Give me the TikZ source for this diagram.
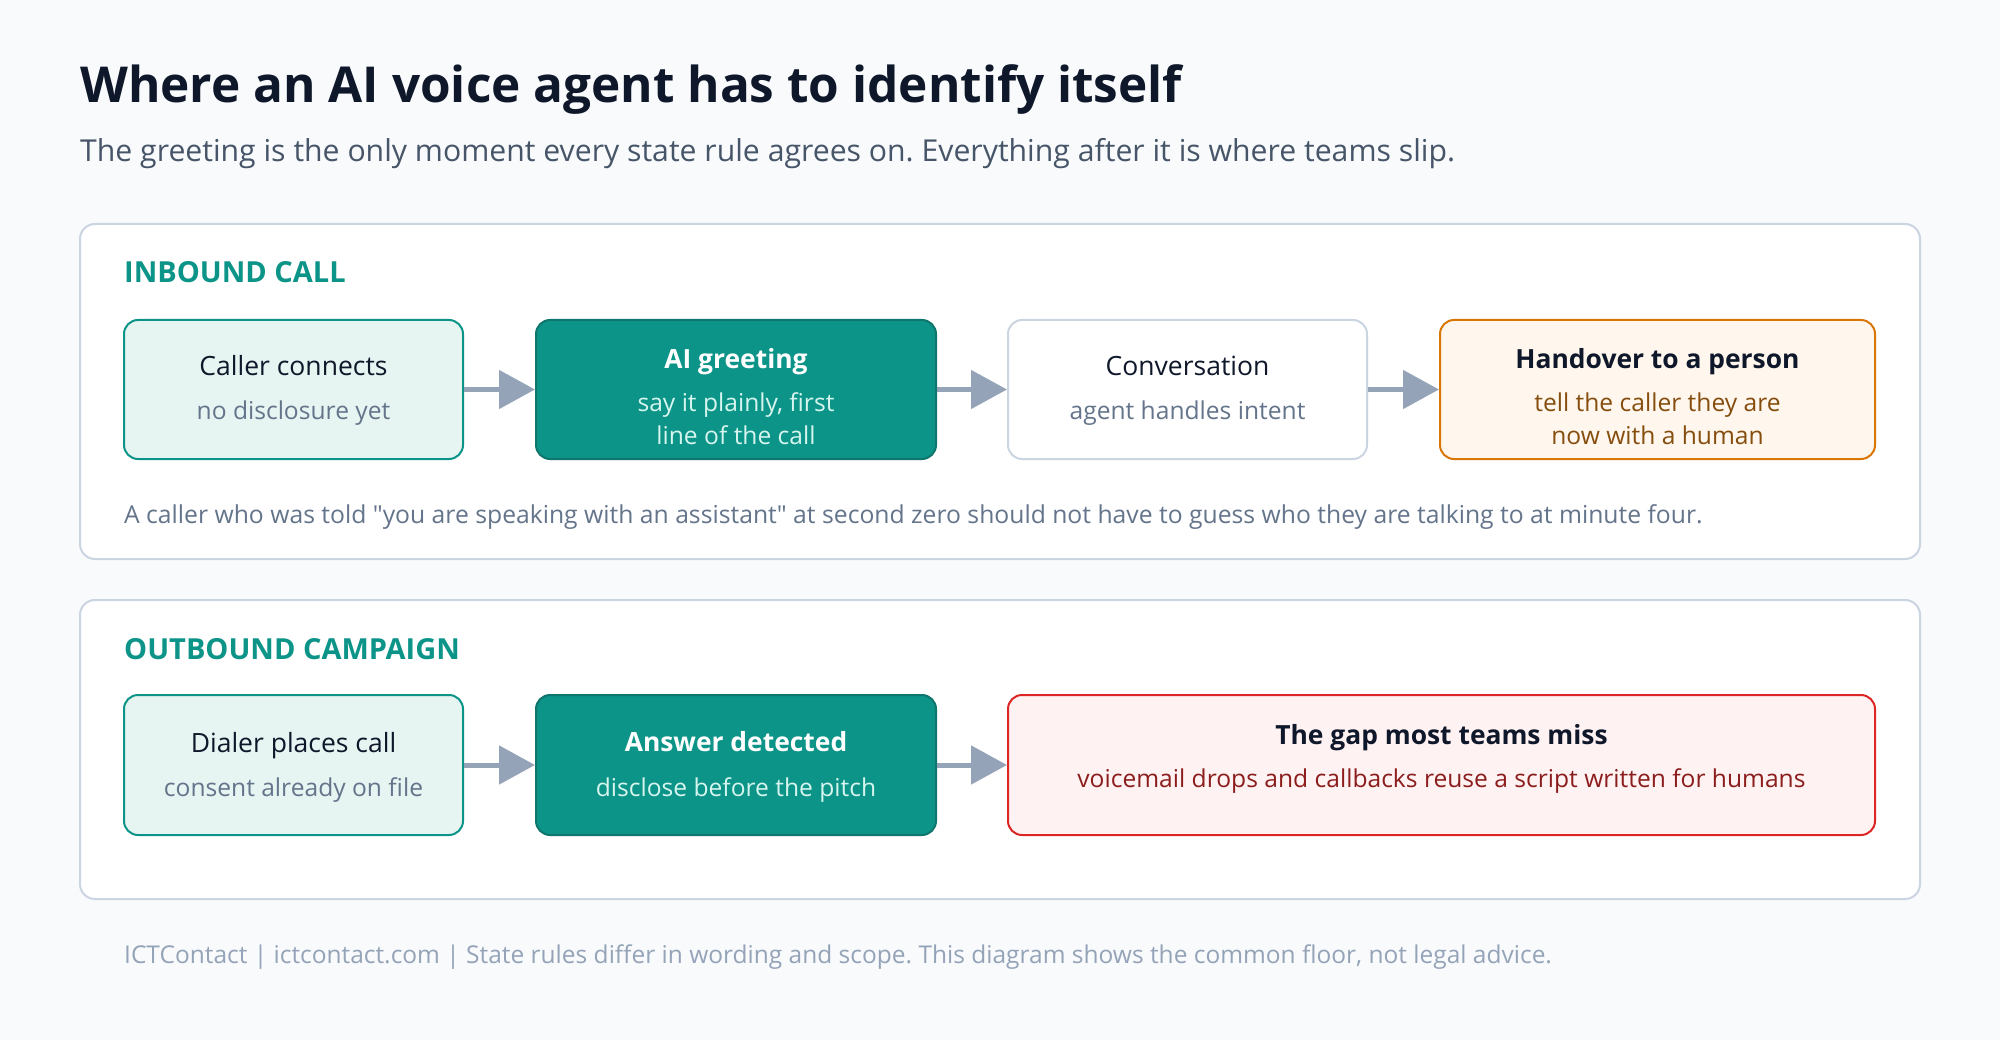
\documentclass[tikz,border=0pt]{standalone}
\usepackage{fontspec}
\setmainfont{Open Sans}
\usetikzlibrary{arrows.meta}
\frenchspacing
\definecolor{bg}{HTML}{F8FAFC}
\definecolor{panelborder}{HTML}{CBD5E1}
\definecolor{teal}{HTML}{0D9488}
\definecolor{tealdark}{HTML}{0F766E}
\definecolor{teallight}{HTML}{E6F4F2}
\definecolor{tealsub}{HTML}{D5F5EE}
\definecolor{slate}{HTML}{64748B}
\definecolor{ink}{HTML}{0F172A}
\definecolor{subink}{HTML}{475569}
\definecolor{arrowc}{HTML}{94A3B8}
\definecolor{orangeb}{HTML}{D97706}
\definecolor{orangef}{HTML}{FFF7ED}
\definecolor{oranget}{HTML}{854D0E}
\definecolor{redb}{HTML}{DC2626}
\definecolor{redf}{HTML}{FEF2F2}
\definecolor{redt}{HTML}{8B1D1D}
\begin{document}
\begin{tikzpicture}[x=1pt,y=-1pt,
  panel/.style={draw=panelborder,fill=white,line width=2pt,rounded corners=15pt},
  boxbase/.style={rectangle,rounded corners=14pt,line width=2pt,inner sep=0pt,minimum height=139pt},
  lightbox/.style={boxbase,draw=teal,fill=teallight},
  tealbox/.style={boxbase,draw=tealdark,fill=teal},
  plainbox/.style={boxbase,draw=panelborder,fill=white},
  orangebox/.style={boxbase,draw=orangeb,fill=orangef},
  redbox/.style={boxbase,draw=redb,fill=redf},
  txt/.style={anchor=base,inner sep=0pt,align=center},
  boxtitle/.style={txt,font=\fontsize{26.5}{32}\selectfont,text=ink},
  boxtitleb/.style={txt,font=\fontsize{26.4}{32}\selectfont\bfseries,text=ink},
  boxsub/.style={txt,font=\fontsize{24.6}{32}\selectfont,text=slate},
  section/.style={anchor=base west,inner sep=0pt,font=\fontsize{29}{32}\selectfont\bfseries,text=teal},
  arr/.style={draw=arrowc,line width=5pt,-{Triangle[length=36pt,width=38pt]}}
]
\useasboundingbox (0,0) rectangle (2000,1040);
\fill[bg] (0,0) rectangle (2000,1040);

\node[anchor=base west,inner sep=0pt,font=\fontsize{49.5}{56}\selectfont\bfseries,text=ink] (title) at (80,103) {Where an AI voice agent has to identify itself};
\node[anchor=base west,inner sep=0pt,font=\fontsize{30.2}{34}\selectfont,text=subink] (subtitle) at (80,162) {The greeting is the only moment every state rule agrees on. Everything after it is where teams slip.};

% Panel 1
\draw[panel] (80,224) rectangle (1920,559);
\node[section] (sec1) at (124,283) {INBOUND CALL};

\node[lightbox,minimum width=339pt] (a1) at (293.5,389.5) {};
\node[tealbox,minimum width=400pt] (a2) at (736,389.5) {};
\node[plainbox,minimum width=359pt] (a3) at (1187.5,389.5) {};
\node[orangebox,minimum width=435pt] (a4) at (1657.5,389.5) {};

\node[boxtitle] (a1t) at (293.5,376) {Caller connects};
\node[boxsub] (a1s) at (293.5,420) {no disclosure yet};
\node[boxtitleb,text=white] (a2t) at (736,369) {AI greeting};
\node[boxsub,text=tealsub] (a2s) at (736,412) {say it plainly, first};
\node[boxsub,text=tealsub] (a2s2) at (736,444) {line of the call};
\node[boxtitle] (a3t) at (1187.5,376) {Conversation};
\node[boxsub] (a3s) at (1187.5,420) {agent handles intent};
\node[boxtitleb] (a4t) at (1657.5,369) {Handover to a person};
\node[boxsub,text=oranget] (a4s) at (1657.5,412) {tell the caller they are};
\node[boxsub,text=oranget] (a4s2) at (1657.5,444) {now with a human};

\draw[arr] (a1.east) -- (a2.west);
\draw[arr] (a2.east) -- (a3.west);
\draw[arr] (a3.east) -- (a4.west);

\node[anchor=base west,inner sep=0pt,font=\fontsize{24.7}{30}\selectfont,text=slate] (cap1) at (124,523) {A caller who was told \textquotedbl you are speaking with an assistant\textquotedbl{} at second zero should not have to guess who they are talking to at minute four.};

% Panel 2
\draw[panel] (80,600) rectangle (1920,899);
\node[section] (sec2) at (124,659) {OUTBOUND CAMPAIGN};

\node[lightbox,minimum width=339pt,minimum height=140pt] (b1) at (293.5,765) {};
\node[tealbox,minimum width=400pt,minimum height=140pt] (b2) at (736,765) {};
\node[redbox,minimum width=867pt,minimum height=140pt] (b3) at (1441.5,765) {};

\node[boxtitle] (b1t) at (293.5,752) {Dialer places call};
\node[boxsub] (b1s) at (293.5,796) {consent already on file};
\node[boxtitleb,text=white] (b2t) at (736,751) {Answer detected};
\node[boxsub,text=tealsub] (b2s) at (736,796) {disclose before the pitch};
\node[boxtitleb] (b3t) at (1441.5,744) {The gap most teams miss};
\node[boxsub,text=redt] (b3s) at (1441.5,787) {voicemail drops and callbacks reuse a script written for humans};

\draw[arr] (b1.east) -- (b2.west);
\draw[arr] (b2.east) -- (b3.west);

\node[anchor=base west,inner sep=0pt,font=\fontsize{24.5}{30}\selectfont,text=arrowc] (foot) at (124,963) {ICTContact | ictcontact.com | State rules differ in wording and scope. This diagram shows the common floor, not legal advice.};
\end{tikzpicture}
\end{document}
